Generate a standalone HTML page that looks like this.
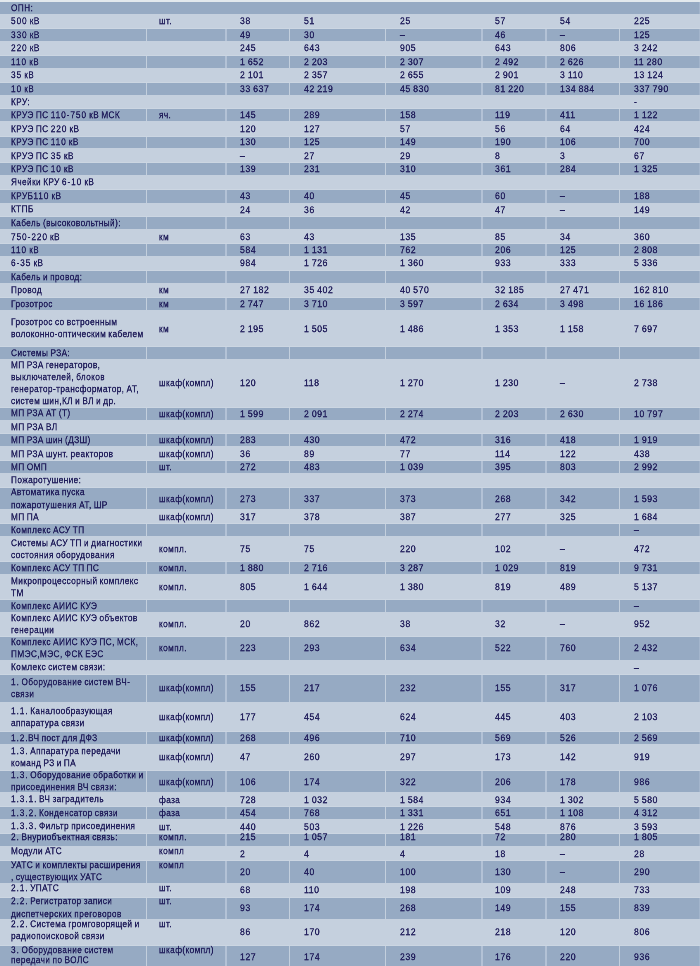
<!DOCTYPE html><html><head><meta charset="utf-8"><style>
html,body{margin:0;padding:0}html{width:700px;height:966px;overflow:hidden}
body{width:700px;height:966px;overflow:hidden;position:relative;background:#c5d0de;font-family:"Liberation Sans",sans-serif;color:#221f5c}
.d{position:absolute;background:#96aac3}
.b{position:absolute;background:#ccd6e2}
.t{position:absolute;white-space:nowrap;font-size:20px;line-height:24px;transform-origin:0 0;will-change:transform;-webkit-text-stroke:0.75px #221f5c;transform:scale(0.413,0.48);letter-spacing:0.937px;word-spacing:-1.25px}
.n{position:absolute;white-space:nowrap;font-size:20px;line-height:24px;transform-origin:0 0;will-change:transform;-webkit-text-stroke:0.75px #221f5c;transform:scale(0.432,0.48);letter-spacing:1.354px;word-spacing:-1.25px}
.dg{letter-spacing:2.28px}
</style></head><body>
<div class="b" style="left:0;top:0;width:700px;height:2px;background:#e3e9ed"></div>
<div class="d" style="left:0;top:2.00px;width:700px;height:12.00px"></div>
<div class="b" style="left:699px;top:2.00px;width:1px;height:12.00px;background:#a3b5cc"></div>
<div class="b" style="left:0;top:27.80px;width:700px;height:1px"></div>
<div class="d" style="left:0;top:28.80px;width:700px;height:12.20px"></div>
<div class="b" style="left:699px;top:28.80px;width:1px;height:12.20px;background:#a3b5cc"></div>
<div class="b" style="left:146px;top:28.80px;width:1px;height:12.20px;background:#c3cfdd"></div>
<div class="b" style="left:225px;top:28.80px;width:2px;height:12.20px;background:#b3c2d6"></div>
<div class="b" style="left:289px;top:28.80px;width:1px;height:12.20px;background:#c3cfdd"></div>
<div class="b" style="left:385px;top:28.80px;width:1px;height:12.20px;background:#c3cfdd"></div>
<div class="b" style="left:481px;top:28.80px;width:2px;height:12.20px;background:#b3c2d6"></div>
<div class="b" style="left:545px;top:28.80px;width:2px;height:12.20px;background:#b3c2d6"></div>
<div class="b" style="left:619px;top:28.80px;width:1px;height:12.20px;background:#c3cfdd"></div>
<div class="b" style="left:0;top:55.00px;width:700px;height:1px"></div>
<div class="d" style="left:0;top:56.00px;width:700px;height:11.70px"></div>
<div class="b" style="left:699px;top:56.00px;width:1px;height:11.70px;background:#a3b5cc"></div>
<div class="b" style="left:146px;top:56.00px;width:1px;height:11.70px;background:#c3cfdd"></div>
<div class="b" style="left:225px;top:56.00px;width:2px;height:11.70px;background:#b3c2d6"></div>
<div class="b" style="left:289px;top:56.00px;width:1px;height:11.70px;background:#c3cfdd"></div>
<div class="b" style="left:385px;top:56.00px;width:1px;height:11.70px;background:#c3cfdd"></div>
<div class="b" style="left:481px;top:56.00px;width:2px;height:11.70px;background:#b3c2d6"></div>
<div class="b" style="left:545px;top:56.00px;width:2px;height:11.70px;background:#b3c2d6"></div>
<div class="b" style="left:619px;top:56.00px;width:1px;height:11.70px;background:#c3cfdd"></div>
<div class="b" style="left:0;top:82.00px;width:700px;height:1px"></div>
<div class="d" style="left:0;top:83.00px;width:700px;height:12.00px"></div>
<div class="b" style="left:699px;top:83.00px;width:1px;height:12.00px;background:#a3b5cc"></div>
<div class="b" style="left:146px;top:83.00px;width:1px;height:12.00px;background:#c3cfdd"></div>
<div class="b" style="left:225px;top:83.00px;width:2px;height:12.00px;background:#b3c2d6"></div>
<div class="b" style="left:289px;top:83.00px;width:1px;height:12.00px;background:#c3cfdd"></div>
<div class="b" style="left:385px;top:83.00px;width:1px;height:12.00px;background:#c3cfdd"></div>
<div class="b" style="left:481px;top:83.00px;width:2px;height:12.00px;background:#b3c2d6"></div>
<div class="b" style="left:545px;top:83.00px;width:2px;height:12.00px;background:#b3c2d6"></div>
<div class="b" style="left:619px;top:83.00px;width:1px;height:12.00px;background:#c3cfdd"></div>
<div class="b" style="left:0;top:108.30px;width:700px;height:1px"></div>
<div class="d" style="left:0;top:109.30px;width:700px;height:12.10px"></div>
<div class="b" style="left:699px;top:109.30px;width:1px;height:12.10px;background:#a3b5cc"></div>
<div class="b" style="left:146px;top:109.30px;width:1px;height:12.10px;background:#c3cfdd"></div>
<div class="b" style="left:225px;top:109.30px;width:2px;height:12.10px;background:#b3c2d6"></div>
<div class="b" style="left:289px;top:109.30px;width:1px;height:12.10px;background:#c3cfdd"></div>
<div class="b" style="left:385px;top:109.30px;width:1px;height:12.10px;background:#c3cfdd"></div>
<div class="b" style="left:481px;top:109.30px;width:2px;height:12.10px;background:#b3c2d6"></div>
<div class="b" style="left:545px;top:109.30px;width:2px;height:12.10px;background:#b3c2d6"></div>
<div class="b" style="left:619px;top:109.30px;width:1px;height:12.10px;background:#c3cfdd"></div>
<div class="b" style="left:0;top:135.60px;width:700px;height:1px"></div>
<div class="d" style="left:0;top:136.60px;width:700px;height:11.80px"></div>
<div class="b" style="left:699px;top:136.60px;width:1px;height:11.80px;background:#a3b5cc"></div>
<div class="b" style="left:146px;top:136.60px;width:1px;height:11.80px;background:#c3cfdd"></div>
<div class="b" style="left:225px;top:136.60px;width:2px;height:11.80px;background:#b3c2d6"></div>
<div class="b" style="left:289px;top:136.60px;width:1px;height:11.80px;background:#c3cfdd"></div>
<div class="b" style="left:385px;top:136.60px;width:1px;height:11.80px;background:#c3cfdd"></div>
<div class="b" style="left:481px;top:136.60px;width:2px;height:11.80px;background:#b3c2d6"></div>
<div class="b" style="left:545px;top:136.60px;width:2px;height:11.80px;background:#b3c2d6"></div>
<div class="b" style="left:619px;top:136.60px;width:1px;height:11.80px;background:#c3cfdd"></div>
<div class="b" style="left:0;top:162.40px;width:700px;height:1px"></div>
<div class="d" style="left:0;top:163.40px;width:700px;height:11.80px"></div>
<div class="b" style="left:699px;top:163.40px;width:1px;height:11.80px;background:#a3b5cc"></div>
<div class="b" style="left:146px;top:163.40px;width:1px;height:11.80px;background:#c3cfdd"></div>
<div class="b" style="left:225px;top:163.40px;width:2px;height:11.80px;background:#b3c2d6"></div>
<div class="b" style="left:289px;top:163.40px;width:1px;height:11.80px;background:#c3cfdd"></div>
<div class="b" style="left:385px;top:163.40px;width:1px;height:11.80px;background:#c3cfdd"></div>
<div class="b" style="left:481px;top:163.40px;width:2px;height:11.80px;background:#b3c2d6"></div>
<div class="b" style="left:545px;top:163.40px;width:2px;height:11.80px;background:#b3c2d6"></div>
<div class="b" style="left:619px;top:163.40px;width:1px;height:11.80px;background:#c3cfdd"></div>
<div class="b" style="left:0;top:189.00px;width:700px;height:1px"></div>
<div class="d" style="left:0;top:190.00px;width:700px;height:12.50px"></div>
<div class="b" style="left:699px;top:190.00px;width:1px;height:12.50px;background:#a3b5cc"></div>
<div class="b" style="left:146px;top:190.00px;width:1px;height:12.50px;background:#c3cfdd"></div>
<div class="b" style="left:225px;top:190.00px;width:2px;height:12.50px;background:#b3c2d6"></div>
<div class="b" style="left:289px;top:190.00px;width:1px;height:12.50px;background:#c3cfdd"></div>
<div class="b" style="left:385px;top:190.00px;width:1px;height:12.50px;background:#c3cfdd"></div>
<div class="b" style="left:481px;top:190.00px;width:2px;height:12.50px;background:#b3c2d6"></div>
<div class="b" style="left:545px;top:190.00px;width:2px;height:12.50px;background:#b3c2d6"></div>
<div class="b" style="left:619px;top:190.00px;width:1px;height:12.50px;background:#c3cfdd"></div>
<div class="b" style="left:0;top:215.80px;width:700px;height:1px"></div>
<div class="d" style="left:0;top:216.80px;width:700px;height:12.70px"></div>
<div class="b" style="left:699px;top:216.80px;width:1px;height:12.70px;background:#a3b5cc"></div>
<div class="b" style="left:146px;top:216.80px;width:1px;height:12.70px;background:#c3cfdd"></div>
<div class="b" style="left:225px;top:216.80px;width:2px;height:12.70px;background:#b3c2d6"></div>
<div class="b" style="left:289px;top:216.80px;width:1px;height:12.70px;background:#c3cfdd"></div>
<div class="b" style="left:385px;top:216.80px;width:1px;height:12.70px;background:#c3cfdd"></div>
<div class="b" style="left:481px;top:216.80px;width:2px;height:12.70px;background:#b3c2d6"></div>
<div class="b" style="left:545px;top:216.80px;width:2px;height:12.70px;background:#b3c2d6"></div>
<div class="b" style="left:619px;top:216.80px;width:1px;height:12.70px;background:#c3cfdd"></div>
<div class="b" style="left:0;top:243.20px;width:700px;height:1px"></div>
<div class="d" style="left:0;top:244.20px;width:700px;height:11.80px"></div>
<div class="b" style="left:699px;top:244.20px;width:1px;height:11.80px;background:#a3b5cc"></div>
<div class="b" style="left:146px;top:244.20px;width:1px;height:11.80px;background:#c3cfdd"></div>
<div class="b" style="left:225px;top:244.20px;width:2px;height:11.80px;background:#b3c2d6"></div>
<div class="b" style="left:289px;top:244.20px;width:1px;height:11.80px;background:#c3cfdd"></div>
<div class="b" style="left:385px;top:244.20px;width:1px;height:11.80px;background:#c3cfdd"></div>
<div class="b" style="left:481px;top:244.20px;width:2px;height:11.80px;background:#b3c2d6"></div>
<div class="b" style="left:545px;top:244.20px;width:2px;height:11.80px;background:#b3c2d6"></div>
<div class="b" style="left:619px;top:244.20px;width:1px;height:11.80px;background:#c3cfdd"></div>
<div class="b" style="left:0;top:269.90px;width:700px;height:1px"></div>
<div class="d" style="left:0;top:270.90px;width:700px;height:12.00px"></div>
<div class="b" style="left:699px;top:270.90px;width:1px;height:12.00px;background:#a3b5cc"></div>
<div class="b" style="left:146px;top:270.90px;width:1px;height:12.00px;background:#c3cfdd"></div>
<div class="b" style="left:225px;top:270.90px;width:2px;height:12.00px;background:#b3c2d6"></div>
<div class="b" style="left:289px;top:270.90px;width:1px;height:12.00px;background:#c3cfdd"></div>
<div class="b" style="left:385px;top:270.90px;width:1px;height:12.00px;background:#c3cfdd"></div>
<div class="b" style="left:481px;top:270.90px;width:2px;height:12.00px;background:#b3c2d6"></div>
<div class="b" style="left:545px;top:270.90px;width:2px;height:12.00px;background:#b3c2d6"></div>
<div class="b" style="left:619px;top:270.90px;width:1px;height:12.00px;background:#c3cfdd"></div>
<div class="b" style="left:0;top:296.60px;width:700px;height:1px"></div>
<div class="d" style="left:0;top:297.60px;width:700px;height:12.40px"></div>
<div class="b" style="left:699px;top:297.60px;width:1px;height:12.40px;background:#a3b5cc"></div>
<div class="b" style="left:146px;top:297.60px;width:1px;height:12.40px;background:#c3cfdd"></div>
<div class="b" style="left:225px;top:297.60px;width:2px;height:12.40px;background:#b3c2d6"></div>
<div class="b" style="left:289px;top:297.60px;width:1px;height:12.40px;background:#c3cfdd"></div>
<div class="b" style="left:385px;top:297.60px;width:1px;height:12.40px;background:#c3cfdd"></div>
<div class="b" style="left:481px;top:297.60px;width:2px;height:12.40px;background:#b3c2d6"></div>
<div class="b" style="left:545px;top:297.60px;width:2px;height:12.40px;background:#b3c2d6"></div>
<div class="b" style="left:619px;top:297.60px;width:1px;height:12.40px;background:#c3cfdd"></div>
<div class="b" style="left:0;top:346.20px;width:700px;height:1px"></div>
<div class="d" style="left:0;top:347.20px;width:700px;height:12.10px"></div>
<div class="b" style="left:699px;top:347.20px;width:1px;height:12.10px;background:#a3b5cc"></div>
<div class="b" style="left:146px;top:347.20px;width:1px;height:12.10px;background:#c3cfdd"></div>
<div class="b" style="left:225px;top:347.20px;width:2px;height:12.10px;background:#b3c2d6"></div>
<div class="b" style="left:289px;top:347.20px;width:1px;height:12.10px;background:#c3cfdd"></div>
<div class="b" style="left:385px;top:347.20px;width:1px;height:12.10px;background:#c3cfdd"></div>
<div class="b" style="left:481px;top:347.20px;width:2px;height:12.10px;background:#b3c2d6"></div>
<div class="b" style="left:545px;top:347.20px;width:2px;height:12.10px;background:#b3c2d6"></div>
<div class="b" style="left:619px;top:347.20px;width:1px;height:12.10px;background:#c3cfdd"></div>
<div class="b" style="left:0;top:406.50px;width:700px;height:1px"></div>
<div class="d" style="left:0;top:407.50px;width:700px;height:12.20px"></div>
<div class="b" style="left:699px;top:407.50px;width:1px;height:12.20px;background:#a3b5cc"></div>
<div class="b" style="left:146px;top:407.50px;width:1px;height:12.20px;background:#c3cfdd"></div>
<div class="b" style="left:225px;top:407.50px;width:2px;height:12.20px;background:#b3c2d6"></div>
<div class="b" style="left:289px;top:407.50px;width:1px;height:12.20px;background:#c3cfdd"></div>
<div class="b" style="left:385px;top:407.50px;width:1px;height:12.20px;background:#c3cfdd"></div>
<div class="b" style="left:481px;top:407.50px;width:2px;height:12.20px;background:#b3c2d6"></div>
<div class="b" style="left:545px;top:407.50px;width:2px;height:12.20px;background:#b3c2d6"></div>
<div class="b" style="left:619px;top:407.50px;width:1px;height:12.20px;background:#c3cfdd"></div>
<div class="b" style="left:0;top:433.30px;width:700px;height:1px"></div>
<div class="d" style="left:0;top:434.30px;width:700px;height:12.10px"></div>
<div class="b" style="left:699px;top:434.30px;width:1px;height:12.10px;background:#a3b5cc"></div>
<div class="b" style="left:146px;top:434.30px;width:1px;height:12.10px;background:#c3cfdd"></div>
<div class="b" style="left:225px;top:434.30px;width:2px;height:12.10px;background:#b3c2d6"></div>
<div class="b" style="left:289px;top:434.30px;width:1px;height:12.10px;background:#c3cfdd"></div>
<div class="b" style="left:385px;top:434.30px;width:1px;height:12.10px;background:#c3cfdd"></div>
<div class="b" style="left:481px;top:434.30px;width:2px;height:12.10px;background:#b3c2d6"></div>
<div class="b" style="left:545px;top:434.30px;width:2px;height:12.10px;background:#b3c2d6"></div>
<div class="b" style="left:619px;top:434.30px;width:1px;height:12.10px;background:#c3cfdd"></div>
<div class="b" style="left:0;top:460.20px;width:700px;height:1px"></div>
<div class="d" style="left:0;top:461.20px;width:700px;height:11.90px"></div>
<div class="b" style="left:699px;top:461.20px;width:1px;height:11.90px;background:#a3b5cc"></div>
<div class="b" style="left:146px;top:461.20px;width:1px;height:11.90px;background:#c3cfdd"></div>
<div class="b" style="left:225px;top:461.20px;width:2px;height:11.90px;background:#b3c2d6"></div>
<div class="b" style="left:289px;top:461.20px;width:1px;height:11.90px;background:#c3cfdd"></div>
<div class="b" style="left:385px;top:461.20px;width:1px;height:11.90px;background:#c3cfdd"></div>
<div class="b" style="left:481px;top:461.20px;width:2px;height:11.90px;background:#b3c2d6"></div>
<div class="b" style="left:545px;top:461.20px;width:2px;height:11.90px;background:#b3c2d6"></div>
<div class="b" style="left:619px;top:461.20px;width:1px;height:11.90px;background:#c3cfdd"></div>
<div class="b" style="left:0;top:487.00px;width:700px;height:1px"></div>
<div class="d" style="left:0;top:488.00px;width:700px;height:21.40px"></div>
<div class="b" style="left:699px;top:488.00px;width:1px;height:21.40px;background:#a3b5cc"></div>
<div class="b" style="left:146px;top:488.00px;width:1px;height:21.40px;background:#c3cfdd"></div>
<div class="b" style="left:225px;top:488.00px;width:2px;height:21.40px;background:#b3c2d6"></div>
<div class="b" style="left:289px;top:488.00px;width:1px;height:21.40px;background:#c3cfdd"></div>
<div class="b" style="left:385px;top:488.00px;width:1px;height:21.40px;background:#c3cfdd"></div>
<div class="b" style="left:481px;top:488.00px;width:2px;height:21.40px;background:#b3c2d6"></div>
<div class="b" style="left:545px;top:488.00px;width:2px;height:21.40px;background:#b3c2d6"></div>
<div class="b" style="left:619px;top:488.00px;width:1px;height:21.40px;background:#c3cfdd"></div>
<div class="b" style="left:0;top:523.30px;width:700px;height:1px"></div>
<div class="d" style="left:0;top:524.30px;width:700px;height:12.20px"></div>
<div class="b" style="left:699px;top:524.30px;width:1px;height:12.20px;background:#a3b5cc"></div>
<div class="b" style="left:146px;top:524.30px;width:1px;height:12.20px;background:#c3cfdd"></div>
<div class="b" style="left:225px;top:524.30px;width:2px;height:12.20px;background:#b3c2d6"></div>
<div class="b" style="left:289px;top:524.30px;width:1px;height:12.20px;background:#c3cfdd"></div>
<div class="b" style="left:385px;top:524.30px;width:1px;height:12.20px;background:#c3cfdd"></div>
<div class="b" style="left:481px;top:524.30px;width:2px;height:12.20px;background:#b3c2d6"></div>
<div class="b" style="left:545px;top:524.30px;width:2px;height:12.20px;background:#b3c2d6"></div>
<div class="b" style="left:619px;top:524.30px;width:1px;height:12.20px;background:#c3cfdd"></div>
<div class="b" style="left:0;top:561.00px;width:700px;height:1px"></div>
<div class="d" style="left:0;top:562.00px;width:700px;height:12.00px"></div>
<div class="b" style="left:699px;top:562.00px;width:1px;height:12.00px;background:#a3b5cc"></div>
<div class="b" style="left:146px;top:562.00px;width:1px;height:12.00px;background:#c3cfdd"></div>
<div class="b" style="left:225px;top:562.00px;width:2px;height:12.00px;background:#b3c2d6"></div>
<div class="b" style="left:289px;top:562.00px;width:1px;height:12.00px;background:#c3cfdd"></div>
<div class="b" style="left:385px;top:562.00px;width:1px;height:12.00px;background:#c3cfdd"></div>
<div class="b" style="left:481px;top:562.00px;width:2px;height:12.00px;background:#b3c2d6"></div>
<div class="b" style="left:545px;top:562.00px;width:2px;height:12.00px;background:#b3c2d6"></div>
<div class="b" style="left:619px;top:562.00px;width:1px;height:12.00px;background:#c3cfdd"></div>
<div class="b" style="left:0;top:599.10px;width:700px;height:1px"></div>
<div class="d" style="left:0;top:600.10px;width:700px;height:11.80px"></div>
<div class="b" style="left:699px;top:600.10px;width:1px;height:11.80px;background:#a3b5cc"></div>
<div class="b" style="left:146px;top:600.10px;width:1px;height:11.80px;background:#c3cfdd"></div>
<div class="b" style="left:225px;top:600.10px;width:2px;height:11.80px;background:#b3c2d6"></div>
<div class="b" style="left:289px;top:600.10px;width:1px;height:11.80px;background:#c3cfdd"></div>
<div class="b" style="left:385px;top:600.10px;width:1px;height:11.80px;background:#c3cfdd"></div>
<div class="b" style="left:481px;top:600.10px;width:2px;height:11.80px;background:#b3c2d6"></div>
<div class="b" style="left:545px;top:600.10px;width:2px;height:11.80px;background:#b3c2d6"></div>
<div class="b" style="left:619px;top:600.10px;width:1px;height:11.80px;background:#c3cfdd"></div>
<div class="b" style="left:0;top:635.80px;width:700px;height:1px"></div>
<div class="d" style="left:0;top:636.80px;width:700px;height:23.40px"></div>
<div class="b" style="left:699px;top:636.80px;width:1px;height:23.40px;background:#a3b5cc"></div>
<div class="b" style="left:146px;top:636.80px;width:1px;height:23.40px;background:#c3cfdd"></div>
<div class="b" style="left:225px;top:636.80px;width:2px;height:23.40px;background:#b3c2d6"></div>
<div class="b" style="left:289px;top:636.80px;width:1px;height:23.40px;background:#c3cfdd"></div>
<div class="b" style="left:385px;top:636.80px;width:1px;height:23.40px;background:#c3cfdd"></div>
<div class="b" style="left:481px;top:636.80px;width:2px;height:23.40px;background:#b3c2d6"></div>
<div class="b" style="left:545px;top:636.80px;width:2px;height:23.40px;background:#b3c2d6"></div>
<div class="b" style="left:619px;top:636.80px;width:1px;height:23.40px;background:#c3cfdd"></div>
<div class="b" style="left:0;top:674.00px;width:700px;height:1px"></div>
<div class="d" style="left:0;top:675.00px;width:700px;height:26.80px"></div>
<div class="b" style="left:699px;top:675.00px;width:1px;height:26.80px;background:#a3b5cc"></div>
<div class="b" style="left:146px;top:675.00px;width:1px;height:26.80px;background:#c3cfdd"></div>
<div class="b" style="left:225px;top:675.00px;width:2px;height:26.80px;background:#b3c2d6"></div>
<div class="b" style="left:289px;top:675.00px;width:1px;height:26.80px;background:#c3cfdd"></div>
<div class="b" style="left:385px;top:675.00px;width:1px;height:26.80px;background:#c3cfdd"></div>
<div class="b" style="left:481px;top:675.00px;width:2px;height:26.80px;background:#b3c2d6"></div>
<div class="b" style="left:545px;top:675.00px;width:2px;height:26.80px;background:#b3c2d6"></div>
<div class="b" style="left:619px;top:675.00px;width:1px;height:26.80px;background:#c3cfdd"></div>
<div class="b" style="left:0;top:730.90px;width:700px;height:1px"></div>
<div class="d" style="left:0;top:731.90px;width:700px;height:11.80px"></div>
<div class="b" style="left:699px;top:731.90px;width:1px;height:11.80px;background:#a3b5cc"></div>
<div class="b" style="left:146px;top:731.90px;width:1px;height:11.80px;background:#c3cfdd"></div>
<div class="b" style="left:225px;top:731.90px;width:2px;height:11.80px;background:#b3c2d6"></div>
<div class="b" style="left:289px;top:731.90px;width:1px;height:11.80px;background:#c3cfdd"></div>
<div class="b" style="left:385px;top:731.90px;width:1px;height:11.80px;background:#c3cfdd"></div>
<div class="b" style="left:481px;top:731.90px;width:2px;height:11.80px;background:#b3c2d6"></div>
<div class="b" style="left:545px;top:731.90px;width:2px;height:11.80px;background:#b3c2d6"></div>
<div class="b" style="left:619px;top:731.90px;width:1px;height:11.80px;background:#c3cfdd"></div>
<div class="b" style="left:0;top:770.00px;width:700px;height:1px"></div>
<div class="d" style="left:0;top:771.00px;width:700px;height:21.20px"></div>
<div class="b" style="left:699px;top:771.00px;width:1px;height:21.20px;background:#a3b5cc"></div>
<div class="b" style="left:146px;top:771.00px;width:1px;height:21.20px;background:#c3cfdd"></div>
<div class="b" style="left:225px;top:771.00px;width:2px;height:21.20px;background:#b3c2d6"></div>
<div class="b" style="left:289px;top:771.00px;width:1px;height:21.20px;background:#c3cfdd"></div>
<div class="b" style="left:385px;top:771.00px;width:1px;height:21.20px;background:#c3cfdd"></div>
<div class="b" style="left:481px;top:771.00px;width:2px;height:21.20px;background:#b3c2d6"></div>
<div class="b" style="left:545px;top:771.00px;width:2px;height:21.20px;background:#b3c2d6"></div>
<div class="b" style="left:619px;top:771.00px;width:1px;height:21.20px;background:#c3cfdd"></div>
<div class="b" style="left:0;top:806.00px;width:700px;height:1px"></div>
<div class="d" style="left:0;top:807.00px;width:700px;height:11.90px"></div>
<div class="b" style="left:699px;top:807.00px;width:1px;height:11.90px;background:#a3b5cc"></div>
<div class="b" style="left:146px;top:807.00px;width:1px;height:11.90px;background:#c3cfdd"></div>
<div class="b" style="left:225px;top:807.00px;width:2px;height:11.90px;background:#b3c2d6"></div>
<div class="b" style="left:289px;top:807.00px;width:1px;height:11.90px;background:#c3cfdd"></div>
<div class="b" style="left:385px;top:807.00px;width:1px;height:11.90px;background:#c3cfdd"></div>
<div class="b" style="left:481px;top:807.00px;width:2px;height:11.90px;background:#b3c2d6"></div>
<div class="b" style="left:545px;top:807.00px;width:2px;height:11.90px;background:#b3c2d6"></div>
<div class="b" style="left:619px;top:807.00px;width:1px;height:11.90px;background:#c3cfdd"></div>
<div class="b" style="left:0;top:833.20px;width:700px;height:1px"></div>
<div class="d" style="left:0;top:834.20px;width:700px;height:12.00px"></div>
<div class="b" style="left:699px;top:834.20px;width:1px;height:12.00px;background:#a3b5cc"></div>
<div class="b" style="left:146px;top:834.20px;width:1px;height:12.00px;background:#c3cfdd"></div>
<div class="b" style="left:225px;top:834.20px;width:2px;height:12.00px;background:#b3c2d6"></div>
<div class="b" style="left:289px;top:834.20px;width:1px;height:12.00px;background:#c3cfdd"></div>
<div class="b" style="left:385px;top:834.20px;width:1px;height:12.00px;background:#c3cfdd"></div>
<div class="b" style="left:481px;top:834.20px;width:2px;height:12.00px;background:#b3c2d6"></div>
<div class="b" style="left:545px;top:834.20px;width:2px;height:12.00px;background:#b3c2d6"></div>
<div class="b" style="left:619px;top:834.20px;width:1px;height:12.00px;background:#c3cfdd"></div>
<div class="b" style="left:0;top:859.90px;width:700px;height:1px"></div>
<div class="d" style="left:0;top:860.90px;width:700px;height:22.10px"></div>
<div class="b" style="left:699px;top:860.90px;width:1px;height:22.10px;background:#a3b5cc"></div>
<div class="b" style="left:146px;top:860.90px;width:1px;height:22.10px;background:#c3cfdd"></div>
<div class="b" style="left:225px;top:860.90px;width:2px;height:22.10px;background:#b3c2d6"></div>
<div class="b" style="left:289px;top:860.90px;width:1px;height:22.10px;background:#c3cfdd"></div>
<div class="b" style="left:385px;top:860.90px;width:1px;height:22.10px;background:#c3cfdd"></div>
<div class="b" style="left:481px;top:860.90px;width:2px;height:22.10px;background:#b3c2d6"></div>
<div class="b" style="left:545px;top:860.90px;width:2px;height:22.10px;background:#b3c2d6"></div>
<div class="b" style="left:619px;top:860.90px;width:1px;height:22.10px;background:#c3cfdd"></div>
<div class="b" style="left:0;top:896.60px;width:700px;height:1px"></div>
<div class="d" style="left:0;top:897.60px;width:700px;height:21.10px"></div>
<div class="b" style="left:699px;top:897.60px;width:1px;height:21.10px;background:#a3b5cc"></div>
<div class="b" style="left:146px;top:897.60px;width:1px;height:21.10px;background:#c3cfdd"></div>
<div class="b" style="left:225px;top:897.60px;width:2px;height:21.10px;background:#b3c2d6"></div>
<div class="b" style="left:289px;top:897.60px;width:1px;height:21.10px;background:#c3cfdd"></div>
<div class="b" style="left:385px;top:897.60px;width:1px;height:21.10px;background:#c3cfdd"></div>
<div class="b" style="left:481px;top:897.60px;width:2px;height:21.10px;background:#b3c2d6"></div>
<div class="b" style="left:545px;top:897.60px;width:2px;height:21.10px;background:#b3c2d6"></div>
<div class="b" style="left:619px;top:897.60px;width:1px;height:21.10px;background:#c3cfdd"></div>
<div class="b" style="left:0;top:945.00px;width:700px;height:1px"></div>
<div class="d" style="left:0;top:946.00px;width:700px;height:20.00px"></div>
<div class="b" style="left:699px;top:946.00px;width:1px;height:20.00px;background:#a3b5cc"></div>
<div class="b" style="left:146px;top:946.00px;width:1px;height:20.00px;background:#c3cfdd"></div>
<div class="b" style="left:225px;top:946.00px;width:2px;height:20.00px;background:#b3c2d6"></div>
<div class="b" style="left:289px;top:946.00px;width:1px;height:20.00px;background:#c3cfdd"></div>
<div class="b" style="left:385px;top:946.00px;width:1px;height:20.00px;background:#c3cfdd"></div>
<div class="b" style="left:481px;top:946.00px;width:2px;height:20.00px;background:#b3c2d6"></div>
<div class="b" style="left:545px;top:946.00px;width:2px;height:20.00px;background:#b3c2d6"></div>
<div class="b" style="left:619px;top:946.00px;width:1px;height:20.00px;background:#c3cfdd"></div>
<div class="t" style="left:11.1px;top:2px">ОПН:</div>
<div class="t" style="left:11.1px;top:15px"><span class="dg">500</span> кВ</div>
<div class="t" style="left:158.8px;top:15px">шт.</div>
<div class="n" style="left:239.8px;top:15px">38</div>
<div class="n" style="left:304.2px;top:15px">51</div>
<div class="n" style="left:400.1px;top:15px">25</div>
<div class="n" style="left:495.4px;top:15px">57</div>
<div class="n" style="left:560.4px;top:15px">54</div>
<div class="n" style="left:633.8px;top:15px">225</div>
<div class="t" style="left:11.1px;top:29px"><span class="dg">330</span> кВ</div>
<div class="n" style="left:239.8px;top:29px">49</div>
<div class="n" style="left:304.2px;top:29px">30</div>
<div class="n" style="left:400.1px;top:29px">–</div>
<div class="n" style="left:495.4px;top:29px">46</div>
<div class="n" style="left:560.4px;top:29px">–</div>
<div class="n" style="left:633.8px;top:29px">125</div>
<div class="t" style="left:11.1px;top:42px"><span class="dg">220</span> кВ</div>
<div class="n" style="left:239.8px;top:42px">245</div>
<div class="n" style="left:304.2px;top:42px">643</div>
<div class="n" style="left:400.1px;top:42px">905</div>
<div class="n" style="left:495.4px;top:42px">643</div>
<div class="n" style="left:560.4px;top:42px">806</div>
<div class="n" style="left:633.8px;top:42px">3 242</div>
<div class="t" style="left:11.1px;top:56px"><span class="dg">110</span> кВ</div>
<div class="n" style="left:239.8px;top:56px">1 652</div>
<div class="n" style="left:304.2px;top:56px">2 203</div>
<div class="n" style="left:400.1px;top:56px">2 307</div>
<div class="n" style="left:495.4px;top:56px">2 492</div>
<div class="n" style="left:560.4px;top:56px">2 626</div>
<div class="n" style="left:633.8px;top:56px">11 280</div>
<div class="t" style="left:11.1px;top:69px"><span class="dg">35</span> кВ</div>
<div class="n" style="left:239.8px;top:69px">2 101</div>
<div class="n" style="left:304.2px;top:69px">2 357</div>
<div class="n" style="left:400.1px;top:69px">2 655</div>
<div class="n" style="left:495.4px;top:69px">2 901</div>
<div class="n" style="left:560.4px;top:69px">3 110</div>
<div class="n" style="left:633.8px;top:69px">13 124</div>
<div class="t" style="left:11.1px;top:83px"><span class="dg">10</span> кВ</div>
<div class="n" style="left:239.8px;top:83px">33 637</div>
<div class="n" style="left:304.2px;top:83px">42 219</div>
<div class="n" style="left:400.1px;top:83px">45 830</div>
<div class="n" style="left:495.4px;top:83px">81 220</div>
<div class="n" style="left:560.4px;top:83px">134 884</div>
<div class="n" style="left:633.8px;top:83px">337 790</div>
<div class="t" style="left:11.1px;top:96px">КРУ:</div>
<div class="n" style="left:633.8px;top:96px">-</div>
<div class="t" style="left:11.1px;top:109px">КРУЭ ПС <span class="dg">110-750</span> кВ МСК</div>
<div class="t" style="left:158.8px;top:109px">яч.</div>
<div class="n" style="left:239.8px;top:109px">145</div>
<div class="n" style="left:304.2px;top:109px">289</div>
<div class="n" style="left:400.1px;top:109px">158</div>
<div class="n" style="left:495.4px;top:109px">119</div>
<div class="n" style="left:560.4px;top:109px">411</div>
<div class="n" style="left:633.8px;top:109px">1 122</div>
<div class="t" style="left:11.1px;top:123px">КРУЭ ПС <span class="dg">220</span> кВ</div>
<div class="n" style="left:239.8px;top:123px">120</div>
<div class="n" style="left:304.2px;top:123px">127</div>
<div class="n" style="left:400.1px;top:123px">57</div>
<div class="n" style="left:495.4px;top:123px">56</div>
<div class="n" style="left:560.4px;top:123px">64</div>
<div class="n" style="left:633.8px;top:123px">424</div>
<div class="t" style="left:11.1px;top:136px">КРУЭ ПС <span class="dg">110</span> кВ</div>
<div class="n" style="left:239.8px;top:136px">130</div>
<div class="n" style="left:304.2px;top:136px">125</div>
<div class="n" style="left:400.1px;top:136px">149</div>
<div class="n" style="left:495.4px;top:136px">190</div>
<div class="n" style="left:560.4px;top:136px">106</div>
<div class="n" style="left:633.8px;top:136px">700</div>
<div class="t" style="left:11.1px;top:150px">КРУЭ ПС <span class="dg">35</span> кВ</div>
<div class="n" style="left:239.8px;top:150px">–</div>
<div class="n" style="left:304.2px;top:150px">27</div>
<div class="n" style="left:400.1px;top:150px">29</div>
<div class="n" style="left:495.4px;top:150px">8</div>
<div class="n" style="left:560.4px;top:150px">3</div>
<div class="n" style="left:633.8px;top:150px">67</div>
<div class="t" style="left:11.1px;top:163px">КРУЭ ПС <span class="dg">10</span> кВ</div>
<div class="n" style="left:239.8px;top:163px">139</div>
<div class="n" style="left:304.2px;top:163px">231</div>
<div class="n" style="left:400.1px;top:163px">310</div>
<div class="n" style="left:495.4px;top:163px">361</div>
<div class="n" style="left:560.4px;top:163px">284</div>
<div class="n" style="left:633.8px;top:163px">1 325</div>
<div class="t" style="left:11.1px;top:176px">Ячейки КРУ <span class="dg">6-10</span> кВ</div>
<div class="t" style="left:11.1px;top:190px">КРУБ<span class="dg">110</span> кВ</div>
<div class="n" style="left:239.8px;top:190px">43</div>
<div class="n" style="left:304.2px;top:190px">40</div>
<div class="n" style="left:400.1px;top:190px">45</div>
<div class="n" style="left:495.4px;top:190px">60</div>
<div class="n" style="left:560.4px;top:190px">–</div>
<div class="n" style="left:633.8px;top:190px">188</div>
<div class="t" style="left:11.1px;top:203px">КТПБ</div>
<div class="n" style="left:239.8px;top:204px">24</div>
<div class="n" style="left:304.2px;top:204px">36</div>
<div class="n" style="left:400.1px;top:204px">42</div>
<div class="n" style="left:495.4px;top:204px">47</div>
<div class="n" style="left:560.4px;top:204px">–</div>
<div class="n" style="left:633.8px;top:204px">149</div>
<div class="t" style="left:11.1px;top:217px">Кабель (высоковольтный):</div>
<div class="t" style="left:11.1px;top:231px"><span class="dg">750-220</span> кВ</div>
<div class="t" style="left:158.8px;top:231px">км</div>
<div class="n" style="left:239.8px;top:231px">63</div>
<div class="n" style="left:304.2px;top:231px">43</div>
<div class="n" style="left:400.1px;top:231px">135</div>
<div class="n" style="left:495.4px;top:231px">85</div>
<div class="n" style="left:560.4px;top:231px">34</div>
<div class="n" style="left:633.8px;top:231px">360</div>
<div class="t" style="left:11.1px;top:244px"><span class="dg">110</span> кВ</div>
<div class="n" style="left:239.8px;top:244px">584</div>
<div class="n" style="left:304.2px;top:244px">1 131</div>
<div class="n" style="left:400.1px;top:244px">762</div>
<div class="n" style="left:495.4px;top:244px">206</div>
<div class="n" style="left:560.4px;top:244px">125</div>
<div class="n" style="left:633.8px;top:244px">2 808</div>
<div class="t" style="left:11.1px;top:257px"><span class="dg">6-35</span> кВ</div>
<div class="n" style="left:239.8px;top:257px">984</div>
<div class="n" style="left:304.2px;top:257px">1 726</div>
<div class="n" style="left:400.1px;top:257px">1 360</div>
<div class="n" style="left:495.4px;top:257px">933</div>
<div class="n" style="left:560.4px;top:257px">333</div>
<div class="n" style="left:633.8px;top:257px">5 336</div>
<div class="t" style="left:11.1px;top:271px">Кабель и провод:</div>
<div class="t" style="left:11.1px;top:284px">Провод</div>
<div class="t" style="left:158.8px;top:284px">км</div>
<div class="n" style="left:239.8px;top:284px">27 182</div>
<div class="n" style="left:304.2px;top:284px">35 402</div>
<div class="n" style="left:400.1px;top:284px">40 570</div>
<div class="n" style="left:495.4px;top:284px">32 185</div>
<div class="n" style="left:560.4px;top:284px">27 471</div>
<div class="n" style="left:633.8px;top:284px">162 810</div>
<div class="t" style="left:11.1px;top:298px">Грозотрос</div>
<div class="t" style="left:158.8px;top:298px">км</div>
<div class="n" style="left:239.8px;top:298px">2 747</div>
<div class="n" style="left:304.2px;top:298px">3 710</div>
<div class="n" style="left:400.1px;top:298px">3 597</div>
<div class="n" style="left:495.4px;top:298px">2 634</div>
<div class="n" style="left:560.4px;top:298px">3 498</div>
<div class="n" style="left:633.8px;top:298px">16 186</div>
<div class="t" style="left:11.1px;top:316px">Грозотрос со встроенным</div>
<div class="t" style="left:11.1px;top:328px">волоконно-оптическим кабелем</div>
<div class="t" style="left:158.8px;top:323px">км</div>
<div class="n" style="left:239.8px;top:323px">2 195</div>
<div class="n" style="left:304.2px;top:323px">1 505</div>
<div class="n" style="left:400.1px;top:323px">1 486</div>
<div class="n" style="left:495.4px;top:323px">1 353</div>
<div class="n" style="left:560.4px;top:323px">1 158</div>
<div class="n" style="left:633.8px;top:323px">7 697</div>
<div class="t" style="left:11.1px;top:347px">Системы РЗА:</div>
<div class="t" style="left:11.1px;top:359px">МП РЗА генераторов,</div>
<div class="t" style="left:11.1px;top:371px">выключателей, блоков</div>
<div class="t" style="left:11.1px;top:383px">генератор-трансформатор, АТ,</div>
<div class="t" style="left:11.1px;top:395px">систем шин,КЛ и ВЛ и др.</div>
<div class="t" style="left:158.8px;top:377px">шкаф(компл)</div>
<div class="n" style="left:239.8px;top:377px">120</div>
<div class="n" style="left:304.2px;top:377px">118</div>
<div class="n" style="left:400.1px;top:377px">1 270</div>
<div class="n" style="left:495.4px;top:377px">1 230</div>
<div class="n" style="left:560.4px;top:377px">–</div>
<div class="n" style="left:633.8px;top:377px">2 738</div>
<div class="t" style="left:11.1px;top:407px">МП РЗА АТ (Т)</div>
<div class="t" style="left:158.8px;top:408px">шкаф(компл)</div>
<div class="n" style="left:239.8px;top:408px">1 599</div>
<div class="n" style="left:304.2px;top:408px">2 091</div>
<div class="n" style="left:400.1px;top:408px">2 274</div>
<div class="n" style="left:495.4px;top:408px">2 203</div>
<div class="n" style="left:560.4px;top:408px">2 630</div>
<div class="n" style="left:633.8px;top:408px">10 797</div>
<div class="t" style="left:11.1px;top:421px">МП РЗА ВЛ</div>
<div class="t" style="left:11.1px;top:434px">МП РЗА шин (ДЗШ)</div>
<div class="t" style="left:158.8px;top:434px">шкаф(компл)</div>
<div class="n" style="left:239.8px;top:434px">283</div>
<div class="n" style="left:304.2px;top:434px">430</div>
<div class="n" style="left:400.1px;top:434px">472</div>
<div class="n" style="left:495.4px;top:434px">316</div>
<div class="n" style="left:560.4px;top:434px">418</div>
<div class="n" style="left:633.8px;top:434px">1 919</div>
<div class="t" style="left:11.1px;top:448px">МП РЗА шунт. реакторов</div>
<div class="t" style="left:158.8px;top:448px">шкаф(компл)</div>
<div class="n" style="left:239.8px;top:448px">36</div>
<div class="n" style="left:304.2px;top:448px">89</div>
<div class="n" style="left:400.1px;top:448px">77</div>
<div class="n" style="left:495.4px;top:448px">114</div>
<div class="n" style="left:560.4px;top:448px">122</div>
<div class="n" style="left:633.8px;top:448px">438</div>
<div class="t" style="left:11.1px;top:461px">МП ОМП</div>
<div class="t" style="left:158.8px;top:461px">шт.</div>
<div class="n" style="left:239.8px;top:461px">272</div>
<div class="n" style="left:304.2px;top:461px">483</div>
<div class="n" style="left:400.1px;top:461px">1 039</div>
<div class="n" style="left:495.4px;top:461px">395</div>
<div class="n" style="left:560.4px;top:461px">803</div>
<div class="n" style="left:633.8px;top:461px">2 992</div>
<div class="t" style="left:11.1px;top:474px">Пожаротушение:</div>
<div class="t" style="left:11.1px;top:486px">Автоматика пуска</div>
<div class="t" style="left:11.1px;top:499px">пожаротушения АТ, ШР</div>
<div class="t" style="left:158.8px;top:493px">шкаф(компл)</div>
<div class="n" style="left:239.8px;top:493px">273</div>
<div class="n" style="left:304.2px;top:493px">337</div>
<div class="n" style="left:400.1px;top:493px">373</div>
<div class="n" style="left:495.4px;top:493px">268</div>
<div class="n" style="left:560.4px;top:493px">342</div>
<div class="n" style="left:633.8px;top:493px">1 593</div>
<div class="t" style="left:11.1px;top:511px">МП ПА</div>
<div class="t" style="left:158.8px;top:511px">шкаф(компл)</div>
<div class="n" style="left:239.8px;top:511px">317</div>
<div class="n" style="left:304.2px;top:511px">378</div>
<div class="n" style="left:400.1px;top:511px">387</div>
<div class="n" style="left:495.4px;top:511px">277</div>
<div class="n" style="left:560.4px;top:511px">325</div>
<div class="n" style="left:633.8px;top:511px">1 684</div>
<div class="t" style="left:11.1px;top:524px">Комплекс АСУ ТП</div>
<div class="n" style="left:633.8px;top:524px">–</div>
<div class="t" style="left:11.1px;top:537px">Системы АСУ ТП и диагностики</div>
<div class="t" style="left:11.1px;top:549px">состояния оборудования</div>
<div class="t" style="left:158.8px;top:543px">компл.</div>
<div class="n" style="left:239.8px;top:543px">75</div>
<div class="n" style="left:304.2px;top:543px">75</div>
<div class="n" style="left:400.1px;top:543px">220</div>
<div class="n" style="left:495.4px;top:543px">102</div>
<div class="n" style="left:560.4px;top:543px">–</div>
<div class="n" style="left:633.8px;top:543px">472</div>
<div class="t" style="left:11.1px;top:562px">Комплекс АСУ ТП ПС</div>
<div class="t" style="left:158.8px;top:562px">компл.</div>
<div class="n" style="left:239.8px;top:562px">1 880</div>
<div class="n" style="left:304.2px;top:562px">2 716</div>
<div class="n" style="left:400.1px;top:562px">3 287</div>
<div class="n" style="left:495.4px;top:562px">1 029</div>
<div class="n" style="left:560.4px;top:562px">819</div>
<div class="n" style="left:633.8px;top:562px">9 731</div>
<div class="t" style="left:11.1px;top:575px">Микропроцессорный комплекс</div>
<div class="t" style="left:11.1px;top:587px">ТМ</div>
<div class="t" style="left:158.8px;top:581px">компл.</div>
<div class="n" style="left:239.8px;top:581px">805</div>
<div class="n" style="left:304.2px;top:581px">1 644</div>
<div class="n" style="left:400.1px;top:581px">1 380</div>
<div class="n" style="left:495.4px;top:581px">819</div>
<div class="n" style="left:560.4px;top:581px">489</div>
<div class="n" style="left:633.8px;top:581px">5 137</div>
<div class="t" style="left:11.1px;top:600px">Комплекс АИИС КУЭ</div>
<div class="n" style="left:633.8px;top:600px">–</div>
<div class="t" style="left:11.1px;top:612px">Комплекс АИИС КУЭ объектов</div>
<div class="t" style="left:11.1px;top:624px">генерации</div>
<div class="t" style="left:158.8px;top:618px">компл.</div>
<div class="n" style="left:239.8px;top:618px">20</div>
<div class="n" style="left:304.2px;top:618px">862</div>
<div class="n" style="left:400.1px;top:618px">38</div>
<div class="n" style="left:495.4px;top:618px">32</div>
<div class="n" style="left:560.4px;top:618px">–</div>
<div class="n" style="left:633.8px;top:618px">952</div>
<div class="t" style="left:11.1px;top:636px">Комплекс АИИС КУЭ ПС, МСК,</div>
<div class="t" style="left:11.1px;top:648px">ПМЭС,МЭС, ФСК ЕЭС</div>
<div class="t" style="left:158.8px;top:642px">компл.</div>
<div class="n" style="left:239.8px;top:642px">223</div>
<div class="n" style="left:304.2px;top:642px">293</div>
<div class="n" style="left:400.1px;top:642px">634</div>
<div class="n" style="left:495.4px;top:642px">522</div>
<div class="n" style="left:560.4px;top:642px">760</div>
<div class="n" style="left:633.8px;top:642px">2 432</div>
<div class="t" style="left:11.1px;top:661px">Комлекс систем связи:</div>
<div class="n" style="left:633.8px;top:662px">–</div>
<div class="t" style="left:11.1px;top:676px"><span class="dg">1</span>. Оборудование систем ВЧ-</div>
<div class="t" style="left:11.1px;top:688px">связи</div>
<div class="t" style="left:158.8px;top:682px">шкаф(компл)</div>
<div class="n" style="left:239.8px;top:682px">155</div>
<div class="n" style="left:304.2px;top:682px">217</div>
<div class="n" style="left:400.1px;top:682px">232</div>
<div class="n" style="left:495.4px;top:682px">155</div>
<div class="n" style="left:560.4px;top:682px">317</div>
<div class="n" style="left:633.8px;top:682px">1 076</div>
<div class="t" style="left:11.1px;top:705px"><span class="dg">1.1</span>. Каналообразующая</div>
<div class="t" style="left:11.1px;top:717px">аппаратура связи</div>
<div class="t" style="left:158.8px;top:711px">шкаф(компл)</div>
<div class="n" style="left:239.8px;top:711px">177</div>
<div class="n" style="left:304.2px;top:711px">454</div>
<div class="n" style="left:400.1px;top:711px">624</div>
<div class="n" style="left:495.4px;top:711px">445</div>
<div class="n" style="left:560.4px;top:711px">403</div>
<div class="n" style="left:633.8px;top:711px">2 103</div>
<div class="t" style="left:11.1px;top:732px"><span class="dg">1.2</span>.ВЧ пост для ДФЗ</div>
<div class="t" style="left:158.8px;top:732px">шкаф(компл)</div>
<div class="n" style="left:239.8px;top:732px">268</div>
<div class="n" style="left:304.2px;top:732px">496</div>
<div class="n" style="left:400.1px;top:732px">710</div>
<div class="n" style="left:495.4px;top:732px">569</div>
<div class="n" style="left:560.4px;top:732px">526</div>
<div class="n" style="left:633.8px;top:732px">2 569</div>
<div class="t" style="left:11.1px;top:745px"><span class="dg">1.3</span>. Аппаратура передачи</div>
<div class="t" style="left:11.1px;top:757px">команд РЗ и ПА</div>
<div class="t" style="left:158.8px;top:751px">шкаф(компл)</div>
<div class="n" style="left:239.8px;top:751px">47</div>
<div class="n" style="left:304.2px;top:751px">260</div>
<div class="n" style="left:400.1px;top:751px">297</div>
<div class="n" style="left:495.4px;top:751px">173</div>
<div class="n" style="left:560.4px;top:751px">142</div>
<div class="n" style="left:633.8px;top:751px">919</div>
<div class="t" style="left:11.1px;top:769px"><span class="dg">1.3</span>. Оборудование обработки и</div>
<div class="t" style="left:11.1px;top:781px">присоединения ВЧ связи:</div>
<div class="t" style="left:158.8px;top:776px">шкаф(компл)</div>
<div class="n" style="left:239.8px;top:776px">106</div>
<div class="n" style="left:304.2px;top:776px">174</div>
<div class="n" style="left:400.1px;top:776px">322</div>
<div class="n" style="left:495.4px;top:776px">206</div>
<div class="n" style="left:560.4px;top:776px">178</div>
<div class="n" style="left:633.8px;top:776px">986</div>
<div class="t" style="left:11.1px;top:793px"><span class="dg">1.3.1</span>. ВЧ заградитель</div>
<div class="t" style="left:158.8px;top:794px">фаза</div>
<div class="n" style="left:239.8px;top:794px">728</div>
<div class="n" style="left:304.2px;top:794px">1 032</div>
<div class="n" style="left:400.1px;top:794px">1 584</div>
<div class="n" style="left:495.4px;top:794px">934</div>
<div class="n" style="left:560.4px;top:794px">1 302</div>
<div class="n" style="left:633.8px;top:794px">5 580</div>
<div class="t" style="left:11.1px;top:807px"><span class="dg">1.3.2</span>. Конденсатор связи</div>
<div class="t" style="left:158.8px;top:807px">фаза</div>
<div class="n" style="left:239.8px;top:807px">454</div>
<div class="n" style="left:304.2px;top:807px">768</div>
<div class="n" style="left:400.1px;top:807px">1 331</div>
<div class="n" style="left:495.4px;top:807px">651</div>
<div class="n" style="left:560.4px;top:807px">1 108</div>
<div class="n" style="left:633.8px;top:807px">4 312</div>
<div class="t" style="left:11.1px;top:820px"><span class="dg">1.3.3</span>. Фильтр присоединения</div>
<div class="t" style="left:158.8px;top:821px">шт.</div>
<div class="n" style="left:239.8px;top:821px">440</div>
<div class="n" style="left:304.2px;top:821px">503</div>
<div class="n" style="left:400.1px;top:821px">1 226</div>
<div class="n" style="left:495.4px;top:821px">548</div>
<div class="n" style="left:560.4px;top:821px">876</div>
<div class="n" style="left:633.8px;top:821px">3 593</div>
<div class="t" style="left:11.1px;top:831px"><span class="dg">2</span>. Внуриобъектная связь:</div>
<div class="t" style="left:158.8px;top:831px">компл.</div>
<div class="n" style="left:239.8px;top:831px">215</div>
<div class="n" style="left:304.2px;top:831px">1 057</div>
<div class="n" style="left:400.1px;top:831px">181</div>
<div class="n" style="left:495.4px;top:831px">72</div>
<div class="n" style="left:560.4px;top:831px">280</div>
<div class="n" style="left:633.8px;top:831px">1 805</div>
<div class="t" style="left:11.1px;top:845px">Модули АТС</div>
<div class="t" style="left:158.8px;top:845px">компл</div>
<div class="n" style="left:239.8px;top:848px">2</div>
<div class="n" style="left:304.2px;top:848px">4</div>
<div class="n" style="left:400.1px;top:848px">4</div>
<div class="n" style="left:495.4px;top:848px">18</div>
<div class="n" style="left:560.4px;top:848px">–</div>
<div class="n" style="left:633.8px;top:848px">28</div>
<div class="t" style="left:11.1px;top:859px">УАТС и комплекты расширения</div>
<div class="t" style="left:11.1px;top:871px">, существующих УАТС</div>
<div class="t" style="left:158.8px;top:859px">компл</div>
<div class="n" style="left:239.8px;top:866px">20</div>
<div class="n" style="left:304.2px;top:866px">40</div>
<div class="n" style="left:400.1px;top:866px">100</div>
<div class="n" style="left:495.4px;top:866px">130</div>
<div class="n" style="left:560.4px;top:866px">–</div>
<div class="n" style="left:633.8px;top:866px">290</div>
<div class="t" style="left:11.1px;top:882px"><span class="dg">2.1</span>. УПАТС</div>
<div class="t" style="left:158.8px;top:882px">шт.</div>
<div class="n" style="left:239.8px;top:884px">68</div>
<div class="n" style="left:304.2px;top:884px">110</div>
<div class="n" style="left:400.1px;top:884px">198</div>
<div class="n" style="left:495.4px;top:884px">109</div>
<div class="n" style="left:560.4px;top:884px">248</div>
<div class="n" style="left:633.8px;top:884px">733</div>
<div class="t" style="left:11.1px;top:895px"><span class="dg">2.2</span>. Регистратор записи</div>
<div class="t" style="left:11.1px;top:908px">диспетчерских преговоров</div>
<div class="t" style="left:158.8px;top:895px">шт.</div>
<div class="n" style="left:239.8px;top:902px">93</div>
<div class="n" style="left:304.2px;top:902px">174</div>
<div class="n" style="left:400.1px;top:902px">268</div>
<div class="n" style="left:495.4px;top:902px">149</div>
<div class="n" style="left:560.4px;top:902px">155</div>
<div class="n" style="left:633.8px;top:902px">839</div>
<div class="t" style="left:11.1px;top:918px"><span class="dg">2.2</span>. Система громговорящей и</div>
<div class="t" style="left:11.1px;top:930px">радиопоисковой связи</div>
<div class="t" style="left:158.8px;top:918px">шт.</div>
<div class="n" style="left:239.8px;top:926px">86</div>
<div class="n" style="left:304.2px;top:926px">170</div>
<div class="n" style="left:400.1px;top:926px">212</div>
<div class="n" style="left:495.4px;top:926px">218</div>
<div class="n" style="left:560.4px;top:926px">120</div>
<div class="n" style="left:633.8px;top:926px">806</div>
<div class="t" style="left:11.1px;top:944px"><span class="dg">3</span>. Оборудование систем</div>
<div class="t" style="left:11.1px;top:954px">передачи по ВОЛС</div>
<div class="t" style="left:158.8px;top:944px">шкаф(компл)</div>
<div class="n" style="left:239.8px;top:951px">127</div>
<div class="n" style="left:304.2px;top:951px">174</div>
<div class="n" style="left:400.1px;top:951px">239</div>
<div class="n" style="left:495.4px;top:951px">176</div>
<div class="n" style="left:560.4px;top:951px">220</div>
<div class="n" style="left:633.8px;top:951px">936</div>
</body></html>
